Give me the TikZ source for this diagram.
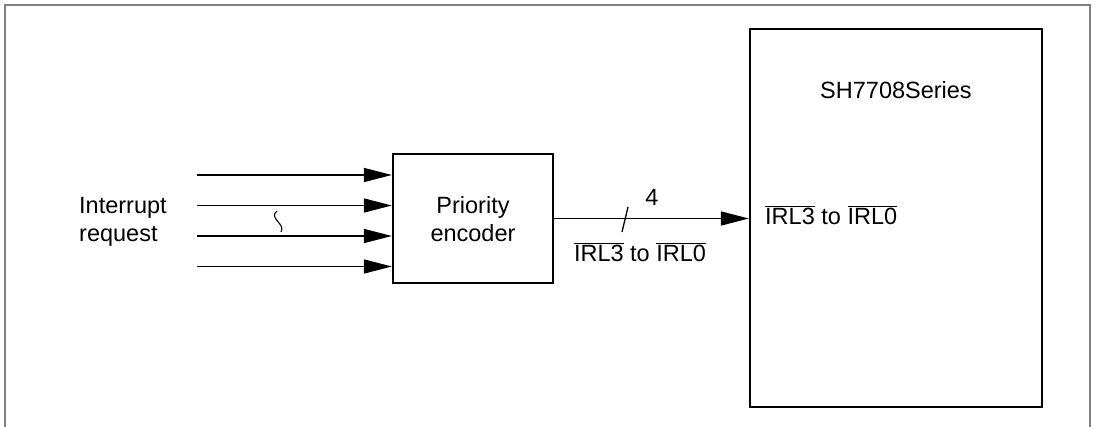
\documentclass[tikz,border=0pt]{standalone}
\usepackage{fontspec}
\setmainfont{Liberation Sans}
\usetikzlibrary{arrows.meta}
\tikzset{
  blk/.style={draw=black, line width=2.3pt, inner sep=0pt},
  lbl/.style={font=\fontsize{23.5}{28.5}\selectfont, inner sep=0pt},
  sig/.style={line width=1.6pt, -{Triangle[length=28pt,width=14pt]}},
  frame/.style={draw=black!50, line width=2pt}
}
\newcommand{\ovl}[1]{$\overline{\hbox{#1}}$}
\begin{document}
\begin{tikzpicture}[x=1pt,y=-1pt]
\useasboundingbox (0,0) rectangle (1100,427);
\draw[frame] (5,427) -- (5,5) -- (1090,5) -- (1090,427);
% blocks
\node[blk, minimum width=160pt, minimum height=129pt] (pe) at (473,218.5) {};
\node[lbl, align=center] (pet) at (473,219) {Priority\\encoder};
\node[blk, minimum width=292pt, minimum height=378pt] (sh) at (896,218) {};
\node[lbl] (sht) at (896,90) {SH7708Series};
\node[lbl, anchor=west] (irlin) at (765,215) {\ovl{IRL3} to \ovl{IRL0}};
% inputs
\node[lbl, align=left, anchor=west] (irq) at (79,222) {Interrupt\\request};
\coordinate (i1) at (197,175);
\coordinate (i2) at (197,205.5);
\coordinate (i3) at (197,236);
\coordinate (i4) at (197,266.5);
\foreach \c in {i1,i2,i3,i4}{
  \draw[sig] (\c) -- (pe.west |- \c);
}
% squiggle
\coordinate (sq1) at (277,211);
\coordinate (sq2) at (281,232);
\draw[line width=1.1pt] (sq1) .. controls (268,218) and (286,224) .. (sq2);
% output bus
\draw[sig] (pe.east) -- (pe.east -| sh.west);
\coordinate (sl1) at (622,232);
\coordinate (sl2) at (628,207);
\draw[line width=1.3pt] (sl1) -- (sl2);
\node[lbl] (four) at (652,197) {4};
\node[lbl] (irlout) at (640,252) {\ovl{IRL3} to \ovl{IRL0}};
\end{tikzpicture}
\end{document}
